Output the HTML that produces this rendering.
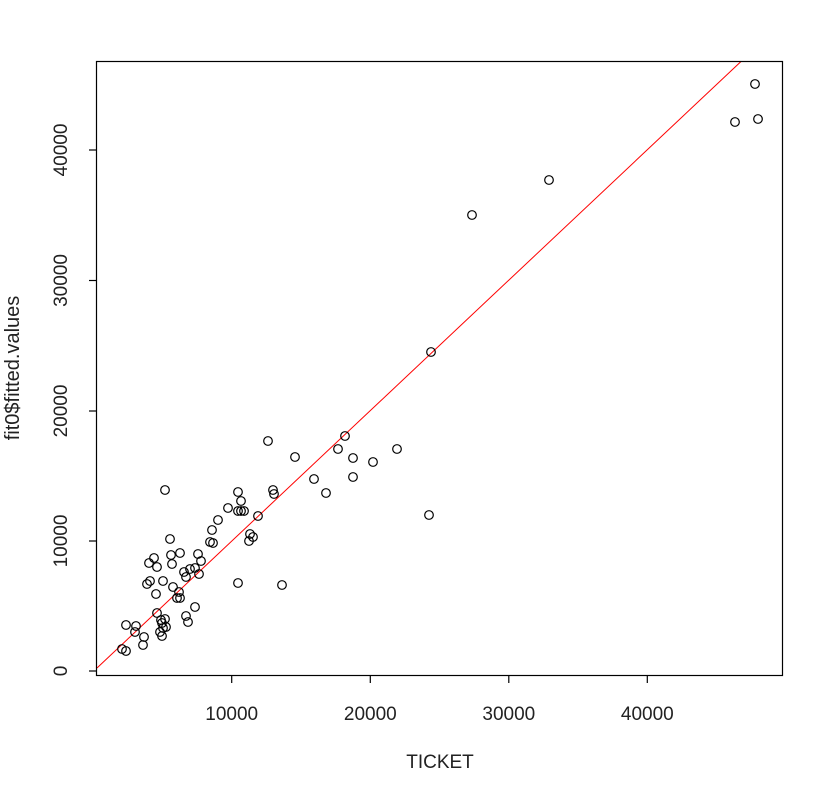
<!DOCTYPE html>
<html><head><meta charset="utf-8"><style>
html,body{margin:0;padding:0;background:#fff;}
svg{display:block;font-family:"Liberation Sans",Arial,sans-serif;}
</style></head><body>
<svg width="829" height="792" viewBox="0 0 829 792" xmlns="http://www.w3.org/2000/svg">
<rect width="829" height="792" fill="#fff"/>
<line x1="97" y1="668" x2="741" y2="61.5" stroke="#ff0000" stroke-width="1"/>
<g fill="none" stroke="#000" stroke-width="1.2">
<circle cx="122" cy="649" r="4.3"/><circle cx="126" cy="651" r="4.3"/><circle cx="126" cy="625" r="4.3"/><circle cx="136" cy="626" r="4.3"/><circle cx="135" cy="632" r="4.3"/><circle cx="144" cy="637" r="4.3"/><circle cx="143" cy="645" r="4.3"/>
<circle cx="157" cy="613" r="4.3"/><circle cx="161" cy="620" r="4.3"/><circle cx="165" cy="619" r="4.3"/><circle cx="162" cy="623" r="4.3"/><circle cx="163" cy="628" r="4.3"/><circle cx="166" cy="627" r="4.3"/><circle cx="160" cy="632" r="4.3"/><circle cx="162" cy="636" r="4.3"/>
<circle cx="186" cy="616" r="4.3"/><circle cx="188" cy="622" r="4.3"/><circle cx="195" cy="607" r="4.3"/><circle cx="156" cy="594" r="4.3"/><circle cx="177" cy="598" r="4.3"/><circle cx="180" cy="598" r="4.3"/><circle cx="179" cy="592" r="4.3"/><circle cx="173" cy="587" r="4.3"/>
<circle cx="147" cy="584" r="4.3"/><circle cx="150" cy="581" r="4.3"/><circle cx="163" cy="581" r="4.3"/><circle cx="149" cy="563" r="4.3"/><circle cx="154" cy="558" r="4.3"/><circle cx="157" cy="567" r="4.3"/><circle cx="171" cy="555" r="4.3"/><circle cx="172" cy="564" r="4.3"/>
<circle cx="180" cy="553" r="4.3"/><circle cx="198" cy="554" r="4.3"/><circle cx="201" cy="561" r="4.3"/><circle cx="184" cy="572" r="4.3"/><circle cx="186" cy="577" r="4.3"/><circle cx="190" cy="569" r="4.3"/><circle cx="195" cy="568" r="4.3"/><circle cx="199" cy="574" r="4.3"/>
<circle cx="170" cy="539" r="4.3"/><circle cx="165" cy="490" r="4.3"/><circle cx="210" cy="542" r="4.3"/><circle cx="213" cy="543" r="4.3"/><circle cx="212" cy="530" r="4.3"/><circle cx="218" cy="520" r="4.3"/><circle cx="228" cy="508" r="4.3"/>
<circle cx="238" cy="492" r="4.3"/><circle cx="241" cy="501" r="4.3"/><circle cx="238" cy="511" r="4.3"/><circle cx="241" cy="511" r="4.3"/><circle cx="244" cy="511" r="4.3"/><circle cx="258" cy="516" r="4.3"/><circle cx="250" cy="534" r="4.3"/><circle cx="249" cy="541" r="4.3"/><circle cx="253" cy="537" r="4.3"/>
<circle cx="238" cy="583" r="4.3"/><circle cx="282" cy="585" r="4.3"/><circle cx="268" cy="441" r="4.3"/><circle cx="273" cy="490" r="4.3"/><circle cx="274" cy="494" r="4.3"/><circle cx="295" cy="457" r="4.3"/><circle cx="314" cy="479" r="4.3"/><circle cx="326" cy="493" r="4.3"/>
<circle cx="338" cy="449" r="4.3"/><circle cx="345" cy="436" r="4.3"/><circle cx="353" cy="458" r="4.3"/><circle cx="353" cy="477" r="4.3"/><circle cx="373" cy="462" r="4.3"/><circle cx="397" cy="449" r="4.3"/><circle cx="431" cy="352" r="4.3"/><circle cx="429" cy="515" r="4.3"/>
<circle cx="472" cy="215" r="4.3"/><circle cx="549" cy="180" r="4.3"/><circle cx="735" cy="122" r="4.3"/><circle cx="755" cy="84" r="4.3"/><circle cx="758" cy="119" r="4.3"/>
</g>
<rect x="96.5" y="61.5" width="686" height="614" fill="none" stroke="#000" stroke-width="1.2"/>
<g stroke="#000" stroke-width="1.2">
<line x1="231.7" y1="675.5" x2="231.7" y2="683"/><line x1="370.3" y1="675.5" x2="370.3" y2="683"/><line x1="508.8" y1="675.5" x2="508.8" y2="683"/><line x1="647.3" y1="675.5" x2="647.3" y2="683"/>
<line x1="89" y1="671" x2="96.5" y2="671"/><line x1="89" y1="541" x2="96.5" y2="541"/><line x1="89" y1="411" x2="96.5" y2="411"/><line x1="89" y1="280.5" x2="96.5" y2="280.5"/><line x1="89" y1="150" x2="96.5" y2="150"/>
</g>
<g font-size="19" fill="#222" text-anchor="middle">
<text x="231.7" y="720">10000</text><text x="370.3" y="720">20000</text><text x="508.8" y="720">30000</text><text x="647.3" y="720">40000</text>
<text x="440" y="768">TICKET</text>
<text transform="translate(67,671) rotate(-90)">0</text>
<text transform="translate(67,541) rotate(-90)">10000</text>
<text transform="translate(67,411) rotate(-90)">20000</text>
<text transform="translate(67,280.5) rotate(-90)">30000</text>
<text transform="translate(67,150) rotate(-90)">40000</text>
<text transform="translate(19,368) rotate(-90)" font-size="20">fit0$fitted.values</text>
</g>
</svg>
</body></html>
